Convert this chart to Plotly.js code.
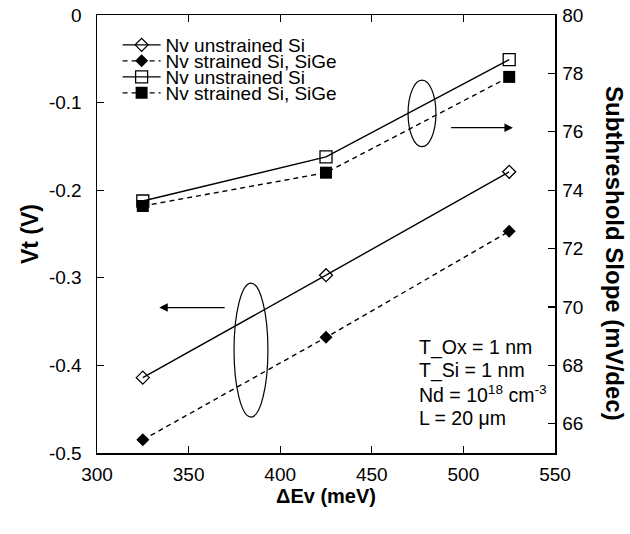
<!DOCTYPE html>
<html>
<head>
<meta charset="utf-8">
<script src="https://cdn.plot.ly/plotly-3.0.1.min.js"></script>
<style>html,body{margin:0;padding:0;background:#fff;}#chart{width:630px;height:534px;}</style>
</head>
<body>
<div id="chart"></div>
<script>
// ---- data ----
const deltaEv = [325, 425, 525];
const vtUnstrained = [-0.414, -0.297, -0.179];
const vtStrained = [-0.485, -0.368, -0.247];
const ssUnstrained = [73.63, 75.14, 78.47];
const ssStrained = [73.46, 74.60, 77.88];
const seriesNames = ["Nv unstrained Si", "Nv strained Si, SiGe", "Nv unstrained Si", "Nv strained Si, SiGe"];
const xTicks = [300, 350, 400, 450, 500, 550];
const yTicks = [0, -0.1, -0.2, -0.3, -0.4, -0.5];
const yTickText = ["0", "-0.1", "-0.2", "-0.3", "-0.4", "-0.5"];
const y2Ticks = [66, 68, 70, 72, 74, 76, 78, 80];
const infoLines = ["T_Ox = 1 nm", "T_Si = 1 nm", "Nd = 10<sup>18</sup> cm<sup>-3</sup>", "L = 20 \u03bcm"];

const F = "Arial, 'Liberation Sans', sans-serif";
const lineW = 1.4;
const dashPat = "5px,4px";

const traces = [
  {x: deltaEv, y: vtUnstrained, name: seriesNames[0], mode: "lines+markers", legend: "legend",
   line: {color: "#000", width: lineW}, marker: {symbol: "diamond-open", size: 10, color: "#000", line: {width: 1.3, color: "#000"}}},
  {x: deltaEv, y: vtStrained, name: seriesNames[1], mode: "lines+markers", legend: "legend2",
   line: {color: "#000", width: lineW, dash: dashPat}, marker: {symbol: "diamond", size: 10, color: "#000"}},
  {x: deltaEv, y: ssUnstrained, name: seriesNames[2], mode: "lines+markers", yaxis: "y2", legend: "legend3",
   line: {color: "#000", width: lineW}, marker: {symbol: "square-open", size: 12, color: "#000", line: {width: 1.3, color: "#000"}}},
  {x: deltaEv, y: ssStrained, name: seriesNames[3], mode: "lines+markers", yaxis: "y2", legend: "legend4",
   line: {color: "#000", width: lineW, dash: dashPat}, marker: {symbol: "square", size: 12, color: "#000"}}
];

// plot area in pixels: left 97, right 555, top 15, bottom 453
const plotTop = 15, plotBottom = 453;
const pY = p => 1 - (p - plotTop) / (plotBottom - plotTop);
const legendRows = [45, 61, 77, 93];
const legendBase = {x: 0.045, xanchor: "left", yanchor: "middle", bgcolor: "rgba(0,0,0,0)",
  borderwidth: 0, font: {family: F, size: 19, color: "#000"}, itemwidth: 38, tracegroupgap: 0};

const infoRows = [347, 370, 394, 418];
const annotations = infoLines.map((t, i) => ({
  text: t, xref: "x", yref: "paper", x: 474.5, y: pY(infoRows[i]), xanchor: "left", yanchor: "middle",
  showarrow: false, font: {family: F, size: 19.5, color: "#000"}
}));
annotations.push({
  text: "<b>Subthreshold Slope (mV/dec)</b>", xref: "paper", yref: "paper", x: 1.131, y: pY(254),
  textangle: 90, showarrow: false, font: {family: F, size: 24, color: "#000"}, xanchor: "center", yanchor: "middle"
});
// arrows
annotations.push({x: 334, y: -0.334, ax: 370.5, ay: -0.334, xref: "x", yref: "y", axref: "x", ayref: "y",
  text: "", showarrow: true, arrowhead: 2, arrowsize: 1.3, arrowwidth: 1.3, arrowcolor: "#000"});
annotations.push({x: 527, y: 76.14, ax: 492.5, ay: 76.14, xref: "x", yref: "y2", axref: "x", ayref: "y2",
  text: "", showarrow: true, arrowhead: 2, arrowsize: 1.3, arrowwidth: 1.3, arrowcolor: "#000"});

const shapes = [
  {type: "circle", xref: "x", yref: "y", x0: 374.8, x1: 393.3, y0: -0.459, y1: -0.306, line: {color: "#000", width: 1.2}},
  {type: "circle", xref: "x", yref: "y2", x0: 469.8, x1: 485, y0: 75.49, y1: 77.77, line: {color: "#000", width: 1.2}}
];

const axisCommon = {showline: true, linecolor: "#000", linewidth: 1.5, ticks: "inside", ticklen: 7,
  tickwidth: 1.2, tickcolor: "#000", showgrid: false, zeroline: false,
  tickfont: {family: F, size: 19, color: "#000"}};

const layout = {
  width: 630, height: 534,
  margin: {l: 97, r: 75, t: 15, b: 81},
  paper_bgcolor: "#fff", plot_bgcolor: "#fff",
  showlegend: true,
  xaxis: Object.assign({}, axisCommon, {range: [300, 550], tickvals: xTicks, mirror: "ticks", ticklabelstandoff: 4,
    title: {text: "<b>\u0394Ev (meV)</b>", font: {family: F, size: 20, color: "#000"}, standoff: 2}}),
  yaxis: Object.assign({}, axisCommon, {range: [-0.5, 0], tickvals: yTicks, ticktext: yTickText, ticklabelstandoff: 10,
    title: {text: "<b>Vt (V)</b>", font: {family: F, size: 23, color: "#000"}, standoff: 4}}),
  yaxis2: Object.assign({}, axisCommon, {range: [65, 80], tickvals: y2Ticks, overlaying: "y", side: "right", ticklabelstandoff: 2}),
  legend: Object.assign({}, legendBase, {y: pY(legendRows[0])}),
  legend2: Object.assign({}, legendBase, {y: pY(legendRows[1])}),
  legend3: Object.assign({}, legendBase, {y: pY(legendRows[2])}),
  legend4: Object.assign({}, legendBase, {y: pY(legendRows[3])}),
  annotations: annotations,
  shapes: shapes
};

Plotly.newPlot("chart", traces, layout, {displayModeBar: false, staticPlot: true});
</script>
</body>
</html>
